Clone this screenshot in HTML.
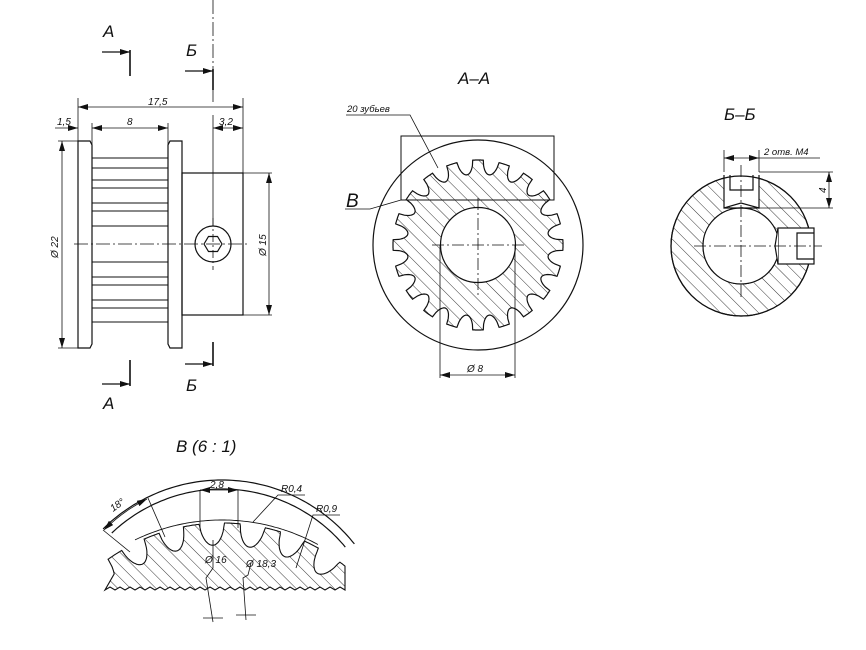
<!DOCTYPE html>
<html><head><meta charset="utf-8"><style>
html,body{margin:0;padding:0;background:#fff}
svg{display:block}
text{font-family:"Liberation Sans","DejaVu Sans",sans-serif;font-style:italic;fill:#111}
</style></head><body>
<svg id="s" width="866" height="650" viewBox="0 0 866 650" xmlns="http://www.w3.org/2000/svg">
<defs>
<pattern id="h" patternUnits="userSpaceOnUse" width="9" height="9" patternTransform="rotate(-45)">
<line x1="0" y1="0" x2="0" y2="9" stroke="#222" stroke-width="0.9"/></pattern>
<marker id="ar" viewBox="0 0 10 6" refX="10" refY="3" markerWidth="10" markerHeight="6" orient="auto-start-reverse" markerUnits="userSpaceOnUse"><path d="M0,0L10,3L0,6z" fill="#111"/></marker>
</defs>
<g fill="none" stroke="#111" stroke-width="1.2">
<line x1="130" y1="50" x2="130" y2="76" stroke-width="1.6"/>
<line x1="102" y1="52" x2="130" y2="52" marker-end="url(#ar)"/>
<line x1="213" y1="69" x2="213" y2="90" stroke-width="1.6"/>
<line x1="185" y1="71" x2="213" y2="71" marker-end="url(#ar)"/>
<line x1="130" y1="360" x2="130" y2="386" stroke-width="1.6"/>
<line x1="102" y1="384" x2="130" y2="384" marker-end="url(#ar)"/>
<line x1="213" y1="342" x2="213" y2="366" stroke-width="1.6"/>
<line x1="185" y1="364" x2="213" y2="364" marker-end="url(#ar)"/>
<path d="M78,141 H90 L92,145 V344 L90,348 H78 Z"/>
<path d="M182,141 H170 L168,145 V344 L170,348 H182 Z"/>
<rect x="182" y="173" width="61" height="142"/>
<g stroke-width="1">
<line x1="92" y1="158" x2="168" y2="158"/><line x1="92" y1="322" x2="168" y2="322"/>
<line x1="92" y1="168" x2="168" y2="168"/><line x1="92" y1="180" x2="168" y2="180"/>
<line x1="92" y1="188" x2="168" y2="188"/><line x1="92" y1="203" x2="168" y2="203"/>
<line x1="92" y1="211" x2="168" y2="211"/><line x1="92" y1="226" x2="168" y2="226"/>
<line x1="92" y1="262" x2="168" y2="262"/><line x1="92" y1="277" x2="168" y2="277"/>
<line x1="92" y1="285" x2="168" y2="285"/><line x1="92" y1="300" x2="168" y2="300"/>
<line x1="92" y1="308" x2="168" y2="308"/>
</g>
<circle cx="213" cy="244" r="18"/>
<polygon points="204,244 208.5,236.5 217.5,236.5 222,244 217.5,251.5 208.5,251.5"/>
<g stroke-width="0.8" stroke-dasharray="14,3,2,3">
<line x1="74" y1="244" x2="250" y2="244"/>
<line x1="213" y1="0" x2="213" y2="105"/>
</g>
<line x1="213" y1="218" x2="213" y2="270" stroke-width="0.8" stroke-dasharray="8,3,2,3"/>
<g stroke-width="0.8">
<line x1="78" y1="98" x2="78" y2="141"/><line x1="243" y1="98" x2="243" y2="173"/>
<line x1="78" y1="107" x2="243" y2="107" marker-start="url(#ar)" marker-end="url(#ar)"/>
<line x1="92" y1="123" x2="92" y2="158"/><line x1="168" y1="123" x2="168" y2="158"/>
<line x1="92" y1="128" x2="168" y2="128" marker-start="url(#ar)" marker-end="url(#ar)"/>
<line x1="55" y1="128" x2="78" y2="128" marker-end="url(#ar)"/>
<line x1="213" y1="128" x2="243" y2="128" marker-start="url(#ar)" marker-end="url(#ar)"/>
<line x1="213" y1="115" x2="213" y2="226"/>
<line x1="58" y1="141" x2="78" y2="141"/><line x1="58" y1="348" x2="78" y2="348"/>
<line x1="62" y1="141" x2="62" y2="348" marker-start="url(#ar)" marker-end="url(#ar)"/>
<line x1="243" y1="173" x2="272" y2="173"/><line x1="243" y1="315" x2="272" y2="315"/>
<line x1="269" y1="173" x2="269" y2="315" marker-start="url(#ar)" marker-end="url(#ar)"/>
</g>
<circle cx="478" cy="245" r="105"/>
<path id="g1" fill="url(#h)" fill-rule="evenodd"/>
<rect x="401" y="136" width="153" height="64" stroke-width="1"/>
<g stroke-width="0.8" stroke-dasharray="12,3,2,3">
<line x1="432" y1="245" x2="525" y2="245"/><line x1="478" y1="198" x2="478" y2="295"/>
</g>
<g stroke-width="0.8">
<line x1="440" y1="245" x2="440" y2="378"/><line x1="515" y1="245" x2="515" y2="378"/>
<line x1="440" y1="375" x2="515" y2="375" marker-start="url(#ar)" marker-end="url(#ar)"/>
<polyline points="346,115 410,115 438,168"/>
<polyline points="345,209 370,209 401,200"/>
</g>
<path fill="url(#h)" fill-rule="evenodd" d="M671,246 a70,70 0 1,0 140,0 a70,70 0 1,0 -140,0 Z M703,246 a38,38 0 1,0 76,0 a38,38 0 1,0 -76,0 Z"/>
<rect x="724" y="172" width="35" height="35" fill="#fff" stroke="none"/>
<circle cx="741" cy="246" r="70" fill="none"/>
<circle cx="741" cy="246" r="38" fill="#fff"/>
<path d="M724,175 V208 L741,203 L759,208 V175"/>
<path d="M730,175 V190 H753 V175"/>
<line x1="724" y1="208" x2="759" y2="208"/>
<rect x="778" y="228" width="36" height="36" fill="#fff"/>
<path d="M778,228 L775,246 L778,264" fill="#fff"/>
<path d="M814,233 H797 V259 H814"/>
<g stroke-width="0.8">
<line x1="724" y1="150" x2="724" y2="172"/><line x1="759" y1="150" x2="759" y2="172"/>
<line x1="724" y1="158" x2="759" y2="158" marker-start="url(#ar)" marker-end="url(#ar)"/>
<line x1="759" y1="158" x2="820" y2="158"/>
<line x1="759" y1="172" x2="833" y2="172"/><line x1="759" y1="208" x2="833" y2="208"/>
<line x1="829" y1="172" x2="829" y2="208" marker-start="url(#ar)" marker-end="url(#ar)"/>
</g>
<g stroke-width="0.8" stroke-dasharray="12,3,2,3">
<line x1="694" y1="246" x2="822" y2="246"/><line x1="741" y1="165" x2="741" y2="300"/>
</g>
<path id="d1" stroke-width="0.9"/>
<path id="d2" fill="url(#h)" stroke-width="1.1"/>
<path id="a1"/><path id="a2"/>
<g stroke-width="0.8">
<line x1="200" y1="490" x2="200" y2="528"/><line x1="238" y1="490" x2="238" y2="528"/>
<line x1="200" y1="490" x2="238" y2="490" marker-start="url(#ar)" marker-end="url(#ar)"/>
<polyline points="305,495 278,495 253,522"/>
<polyline points="340,515 313,515 296,568"/>
<line x1="103" y1="530" x2="130" y2="552"/><line x1="148" y1="498" x2="165" y2="537"/>
<path d="M104,530 A165,165 0 0 1 147,499" marker-start="url(#ar)" marker-end="url(#ar)"/>
<polyline points="213,540 213,568 206,578 213,622"/>
<polyline points="251,563 248,575 243,578 246,620"/>
<line x1="203" y1="618" x2="223" y2="618"/><line x1="236" y1="615" x2="256" y2="615"/>
</g>
</g>
<text x="103" y="37" font-size="17">A</text>
<text x="186" y="56" font-size="17">Б</text>
<text x="103" y="409" font-size="17">A</text>
<text x="186" y="391" font-size="17">Б</text>
<text x="148" y="105" font-size="10">17,5</text>
<text x="57" y="125" font-size="10">1,5</text>
<text x="127" y="125" font-size="10">8</text>
<text x="219" y="125" font-size="10">3,2</text>
<text x="0" y="0" font-size="10" transform="translate(58,258) rotate(-90)">Ø 22</text>
<text x="0" y="0" font-size="10" transform="translate(266,256) rotate(-90)">Ø 15</text>
<text x="458" y="84" font-size="17">A–A</text>
<text x="347" y="112" font-size="9.5">20 зубьев</text>
<text x="346" y="207" font-size="19">B</text>
<text x="467" y="372" font-size="10">Ø 8</text>
<text x="724" y="120" font-size="17">Б–Б</text>
<text x="764" y="155" font-size="9.5">2 отв. M4</text>
<text x="0" y="0" font-size="10" transform="translate(826,193) rotate(-90)">4</text>
<text x="176" y="452" font-size="17">B  (6 : 1)</text>
<text x="210" y="488" font-size="10">2,8</text>
<text x="281" y="492" font-size="10">R0,4</text>
<text x="316" y="512" font-size="10">R0,9</text>
<text x="0" y="0" font-size="10" transform="translate(113,512) rotate(-35)">18°</text>
<text x="205" y="563" font-size="10">Ø 16</text>
<text x="246" y="567" font-size="10">Ø 18,3</text>
</svg>
<script>
function gear(cx,cy,rt,depth,n,a0,a1,steps,ph){
  ph=ph||0;var pts=[];
  for(var i=0;i<=steps;i++){
    var t=a0+(a1-a0)*i/steps;
    var p=((t/(2*Math.PI)*n+ph)%1+1)%1;
    var r=rt,d=Math.abs(p-0.5);
    if(d<0.3){r=rt-depth*Math.sqrt(1-Math.pow(d/0.3,2));}
    pts.push([cx+r*Math.cos(t),cy+r*Math.sin(t)]);
  }
  return pts;
}
function path(pts){return pts.map(function(p,i){return (i?'L':'M')+p[0].toFixed(1)+','+p[1].toFixed(1)}).join('')}
var g=gear(478,245,85,14,20,0,2*Math.PI,800);
document.getElementById('g1').setAttribute('d',path(g)+'Z M440.5,245 a37.5,37.5 0 1,0 75,0 a37.5,37.5 0 1,0 -75,0Z');
var cx=222,cy=649;
function arc(cx,cy,r,a0,a1){var p=[];for(var i=0;i<=80;i++){var t=a0+(a1-a0)*i/80;p.push([cx+r*Math.cos(t),cy+r*Math.sin(t)]);}return p;}
var A0=-Math.PI/2-0.78,A1=-Math.PI/2+0.9;
document.getElementById('a1').setAttribute('d',path(arc(cx,cy,169,A0,A1)));
document.getElementById('a2').setAttribute('d',path(arc(cx,cy,160,A0+0.02,A1-0.02)));
var gx=222,gy=720,R=197;
document.getElementById('d1').setAttribute('d',path(arc(gx,gy,R+3,-Math.PI/2-0.45,-Math.PI/2+0.5)));
var left=-Math.PI/2-Math.asin(117/R), right=-Math.PI/2+Math.asin(123/R);
var gp=gear(gx,gy,R,22,30,left,right,400,0.25);
var d=path(gp);
d+='L'+gp[gp.length-1][0].toFixed(1)+',588';
for(var x=345;x>=105;x-=5){d+='L'+x+','+(588+((x/5)%2?2:-1));}
d+='Z';
document.getElementById('d2').setAttribute('d',d);
</script>
</body></html>
